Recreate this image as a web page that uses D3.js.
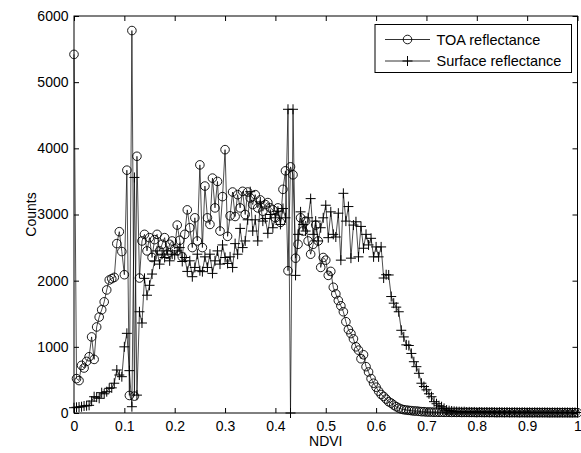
<!DOCTYPE html>
<html>
<head>
<meta charset="utf-8">
<script src="https://cdn.jsdelivr.net/npm/d3@7"></script>
<style>
  body { margin: 0; background: #fff; }
  svg { display: block; font-family: Arial, "Liberation Sans", sans-serif; }
  .tick text { font-size: 14px; fill: #000; }
  .tick line { stroke: #000; }
  .lbl { font-size: 14px; fill: #000; }
  .leg { font-size: 14.5px; fill: #000; }
</style>
</head>
<body>
<svg id="chart"></svg>
<script>
// ---- data ----
// histogram bins: NDVI 0 .. 1, step 0.005
var ndviBins = d3.range(0, 201).map(function(i){ return i * 0.005; });

var toaCounts = [
  5420, 520, 490, 720, 680, 780, 850, 1150, 810, 1300,
  1450, 1560, 1680, 1860, 2010, 2030, 2050, 2560, 2740, 2440,
  2090, 3670, 265, 5780, 255, 3880, 2040, 2600, 2700, 2450,
  2650, 2350, 2620, 2700, 2450, 2550, 2650, 2400, 2550, 2600,
  2480, 2840, 2610, 2360, 2700, 3070, 2800, 2500, 2950, 2600,
  3750, 2500, 3430, 2950, 2850, 3550, 3100, 3500, 2750, 3270,
  3980, 2670, 2980, 3340, 2970, 3300, 3100, 3350, 3000, 3340,
  3250, 3150, 3300, 3100, 3220, 3050, 3150, 3180, 3100, 3070,
  2950, 3100, 2880, 3380, 3660, 2150, 3720, 3600, 2340, 2550,
  2950, 2750, 2900, 2600, 2400, 2550, 2840, 2600, 2200, 2350,
  2310, 2080, 2140, 1900, 1800, 1700, 1620, 1530, 1380, 1260,
  1200, 1120, 1000, 950, 820, 880, 700, 620, 520, 450,
  390, 330, 280, 250, 210, 170, 150, 120, 95, 75,
  60, 50, 45, 40, 35, 30, 30, 25, 20, 20, 15,
  15, 14, 12, 13, 11, 12, 10, 11, 10, 9,
  10, 9, 10, 8, 9, 9, 8, 9, 8, 7,
  8, 8, 7, 8, 7, 8, 7, 6, 7, 7,
  6, 7, 6, 6, 7, 6, 5, 6, 6, 5,
  6, 5, 6, 5, 5, 6, 5, 5, 4, 5,
  5, 4, 5, 5, 4, 5, 4, 4, 5, 4
];

var surfaceCounts = [
  80, 86, 90, 95, 106, 110, 116, 180, 246, 240,
  222, 307, 290, 322, 373, 380, 450, 650, 574, 549,
  1000, 1204, 640, 95, 3560, 270, 1530, 1360, 2035, 1780,
  1930, 2100, 2300, 2450, 2250, 2400, 2350, 2450, 2300, 2400,
  2390, 2450, 2500, 2290, 2350, 2140, 2300, 2060, 2200, 2400,
  2150, 2136, 2360, 2200, 2400, 2110, 2300, 2450, 2250, 2540,
  2350, 2260, 2360, 2200, 2560, 2400, 2790, 2500, 2600, 2920,
  3345, 2750, 2920, 2600, 3190, 2900, 2940, 2716, 3000, 2800,
  2950, 3050, 2850, 3090, 2950, 4590, 0, 4590, 2080, 2700,
  3040, 2850, 2750, 2950, 3240, 2700, 2900, 2600, 2800, 2950,
  3140, 2650, 3040, 2700, 2660, 3020, 2310, 3320, 2900, 3120,
  2340, 2840, 2890, 2360, 2820, 2490, 2700, 2540, 2640, 2360,
  2510, 2360, 2510, 2040, 2090, 2086, 1760, 1660, 1600, 1530,
  1250, 1150, 1030, 1020, 900, 775, 700, 600, 450, 400,
  350, 290, 246, 171, 140, 110, 95, 70, 45, 35,
  30, 25, 22, 20, 18, 20, 15, 17, 14, 16,
  12, 15, 13, 12, 14, 11, 13, 12, 10, 12,
  11, 10, 12, 9, 11, 10, 10, 9, 11, 10,
  9, 10, 8, 10, 9, 9, 8, 10, 9, 8,
  9, 8, 9, 7, 8, 9, 8, 7, 8, 8, 7
];

var xTicks = [0, 0.1, 0.2, 0.3, 0.4, 0.5, 0.6, 0.7, 0.8, 0.9, 1];
var xTickLabels = ["0", "0.1", "0.2", "0.3", "0.4", "0.5", "0.6", "0.7", "0.8", "0.9", "1"];
var yTicks = [0, 1000, 2000, 3000, 4000, 5000, 6000];
var yTickLabels = ["0", "1000", "2000", "3000", "4000", "5000", "6000"];
var seriesNames = ["TOA reflectance", "Surface reflectance"];

// ---- layout ----
var svgWidth = 581, svgHeight = 453,
    plotLeft = 74, plotRight = 577.5, plotTop = 16, plotBottom = 413;

var svg = d3.select("#chart")
  .attr("width", svgWidth)
  .attr("height", svgHeight);

var x = d3.scaleLinear().domain([0, 1]).range([plotLeft, plotRight]);
var y = d3.scaleLinear().domain([0, 6000]).range([plotBottom, plotTop]);

// axes, ticks inside like matlab
svg.append("g")
  .attr("transform", "translate(0," + plotBottom + ")")
  .call(d3.axisBottom(x).tickValues(xTicks).tickSize(-5).tickPadding(8.5)
    .tickFormat(function(d, i){ return xTickLabels[i]; }))
  .call(function(g){ g.select(".domain").remove(); });

svg.append("g")
  .attr("transform", "translate(0," + plotTop + ")")
  .call(d3.axisTop(x).tickValues(xTicks).tickSize(-5).tickFormat(""))
  .call(function(g){ g.select(".domain").remove(); });

svg.append("g")
  .attr("transform", "translate(" + plotLeft + ",0)")
  .call(d3.axisLeft(y).tickValues(yTicks).tickSize(-5).tickPadding(5.5)
    .tickFormat(function(d, i){ return yTickLabels[i]; }))
  .call(function(g){ g.select(".domain").remove(); });

svg.append("g")
  .attr("transform", "translate(" + plotRight + ",0)")
  .call(d3.axisRight(y).tickValues(yTicks).tickSize(-5).tickFormat(""))
  .call(function(g){ g.select(".domain").remove(); });

// plot box
svg.append("rect")
  .attr("x", plotLeft).attr("y", plotTop)
  .attr("width", plotRight - plotLeft).attr("height", plotBottom - plotTop)
  .attr("fill", "none").attr("stroke", "#000").attr("stroke-width", 1);

// axis titles
svg.append("text")
  .attr("class", "lbl")
  .attr("x", (plotLeft + plotRight) / 2).attr("y", 446)
  .attr("text-anchor", "middle")
  .text("NDVI");

svg.append("text")
  .attr("class", "lbl")
  .attr("transform", "translate(" + 36 + "," + ((plotTop + plotBottom) / 2) + ") rotate(-90)")
  .attr("text-anchor", "middle")
  .text("Counts");

// ---- series ----
var plusPath = "M-5,0H5M0,-5V5";

function drawSeries(values, marker) {
  var pts = values.map(function(v, i){ return [ndviBins[i], v]; });
  var line = d3.line()
    .x(function(d){ return x(d[0]); })
    .y(function(d){ return y(d[1]); });

  var g = svg.append("g");
  g.append("path")
    .attr("d", line(pts))
    .attr("fill", "none")
    .attr("stroke", "#000")
    .attr("stroke-width", 0.7);

  if (marker == "circle") {
    g.selectAll("circle").data(pts).enter().append("circle")
      .attr("cx", function(d){ return x(d[0]); })
      .attr("cy", function(d){ return y(d[1]); })
      .attr("r", 4.3)
      .attr("fill", "none")
      .attr("stroke", "#000")
      .attr("stroke-width", 0.9);
  } else {
    g.selectAll("path.m").data(pts).enter().append("path")
      .attr("class", "m")
      .attr("transform", function(d){ return "translate(" + [x(d[0]), y(d[1])] + ")"; })
      .attr("d", plusPath)
      .attr("fill", "none")
      .attr("stroke", "#000")
      .attr("stroke-width", 1);
  }
}

drawSeries(toaCounts, "circle");
drawSeries(surfaceCounts, "plus");

// ---- legend ----
var legend = svg.append("g");
legend.append("rect")
  .attr("x", 375).attr("y", 24.5)
  .attr("width", 196.5).attr("height", 48)
  .attr("fill", "#fff").attr("stroke", "#000").attr("stroke-width", 1);

seriesNames.forEach(function(name, i) {
  var ly = 39.5 + i * 21.5;
  legend.append("line")
    .attr("x1", 385).attr("x2", 430)
    .attr("y1", ly).attr("y2", ly)
    .attr("stroke", "#000").attr("stroke-width", 0.8);
  if (i == 0) {
    legend.append("circle")
      .attr("cx", 407.5).attr("cy", ly).attr("r", 4.3)
      .attr("fill", "none").attr("stroke", "#000").attr("stroke-width", 0.9);
  } else {
    legend.append("path")
      .attr("transform", "translate(" + [407.5, ly] + ")")
      .attr("d", plusPath)
      .attr("fill", "none").attr("stroke", "#000");
  }
  legend.append("text")
    .attr("class", "leg")
    .attr("x", 436.5).attr("y", ly + 5)
    .text(name);
});
</script>
</body>
</html>
